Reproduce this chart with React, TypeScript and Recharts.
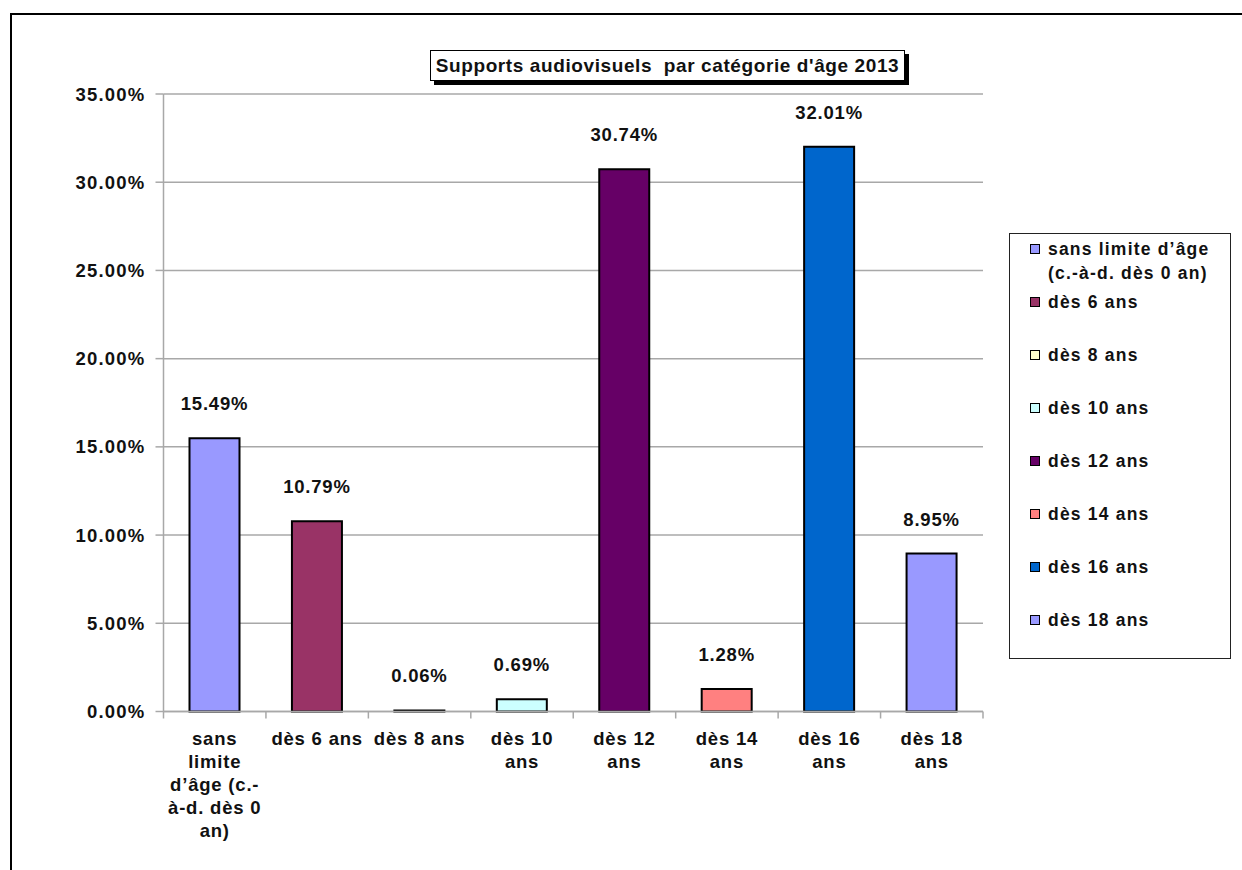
import React from 'react';
import { BarChart, Bar, XAxis, YAxis, CartesianGrid, LabelList, Cell, Legend } from 'recharts';

const CATEGORIES = [
  'sans limite d’âge (c.-à-d. dès 0 an)',
  'dès 6 ans',
  'dès 8 ans',
  'dès 10 ans',
  'dès 12 ans',
  'dès 14 ans',
  'dès 16 ans',
  'dès 18 ans',
];
const TICK_LINES = [
  ['sans', 'limite', 'd’âge (c.-', 'à-d. dès 0', 'an)'],
  ['dès 6 ans'],
  ['dès 8 ans'],
  ['dès 10', 'ans'],
  ['dès 12', 'ans'],
  ['dès 14', 'ans'],
  ['dès 16', 'ans'],
  ['dès 18', 'ans'],
];
const LEGEND_LINES = [
  ['sans limite d’âge', '(c.-à-d. dès 0 an)'],
  ['dès 6 ans'],
  ['dès 8 ans'],
  ['dès 10 ans'],
  ['dès 12 ans'],
  ['dès 14 ans'],
  ['dès 16 ans'],
  ['dès 18 ans'],
];
const VALUES = [15.49, 10.79, 0.06, 0.69, 30.74, 1.28, 32.01, 8.95];
const COLORS = ['#9999FF', '#993366', '#FFFFCC', '#CCFFFF', '#660066', '#FF8080', '#0066CC', '#9999FF'];
const Y_TICKS = [0, 5, 10, 15, 20, 25, 30, 35];
const TITLE = "Supports audiovisuels  par catégorie d'âge 2013";

const data = CATEGORIES.map((name, i) => ({ name, value: VALUES[i], idx: i }));

const FONT = '"Liberation Sans", Arial, Helvetica, sans-serif';
const CHART_W = 1242;
const CHART_H = 870;
const MARGIN = { top: 94, right: 259, bottom: 28.5, left: 63.5 };
const Y_W = 100;
const X_H = 130;
const PLOT_W = CHART_W - MARGIN.left - MARGIN.right - Y_W;
const BAND = PLOT_W / CATEGORIES.length;
const GRID = '#A8A8A8';

const XTick = (props: any) => {
  const { x, y, payload, index } = props;
  const i = typeof index === 'number' ? index : payload.index;
  const lines = TICK_LINES[i] || [String(payload.value)];
  return (
    <g>
      <line x1={x - BAND / 2} x2={x - BAND / 2} y1={y} y2={y + 7} stroke={GRID} strokeWidth={1.5} />
      {i === CATEGORIES.length - 1 && (
        <line x1={x + BAND / 2} x2={x + BAND / 2} y1={y} y2={y + 7} stroke={GRID} strokeWidth={1.5} />
      )}
      <text
        textAnchor="middle"
        fontFamily={FONT}
        fontWeight="bold"
        fontSize={18.5}
        letterSpacing={0.8}
        fill="#111"
      >
        {lines.map((l: string, k: number) => (
          <tspan key={k} x={x} y={y + 33 + k * 23}>
            {l}
          </tspan>
        ))}
      </text>
    </g>
  );
};

const LegendContent = () => (
  <div
    style={{
      width: 222,
      height: 426,
      boxSizing: 'border-box',
      border: '1px solid #222',
      background: '#fff',
      paddingTop: 3,
      paddingLeft: 20,
      fontFamily: FONT,
      fontWeight: 'bold',
      fontSize: 17.5,
      letterSpacing: 1.2,
      color: '#111',
      textAlign: 'left',
    }}
  >
    {LEGEND_LINES.map((lines, i) => (
      <div key={i} style={{ display: 'flex', alignItems: 'flex-start', marginBottom: i === 0 ? 5 : 29 }}>
        <div
          style={{
            width: 10,
            height: 10,
            boxSizing: 'border-box',
            border: '1.5px solid #000',
            background: COLORS[i],
            marginTop: 7,
            marginRight: 8,
            flex: 'none',
          }}
        />
        <div style={{ lineHeight: '24px', whiteSpace: 'nowrap' }}>
          {lines.map((l, k) => (
            <div key={k}>{l}</div>
          ))}
        </div>
      </div>
    ))}
  </div>
);

export default function App() {
  return (
    <div style={{ position: 'absolute', left: 0, top: 0, width: CHART_W, height: CHART_H, background: '#fff', overflow: 'hidden' }}>
      <div
        style={{
          position: 'absolute',
          left: 10,
          top: 13,
          width: CHART_W,
          height: CHART_H,
          borderLeft: '2px solid #000',
          borderTop: '2px solid #000',
        }}
      />
      <div style={{ position: 'absolute', left: 0, top: 0 }}>
        <BarChart width={CHART_W} height={CHART_H} data={data} margin={MARGIN}>
          <CartesianGrid vertical={false} stroke={GRID} strokeWidth={1.5} />
          <XAxis
            dataKey="name"
            height={X_H}
            interval={0}
            tickSize={0}
            tickMargin={0}
            tickLine={false}
            axisLine={{ stroke: GRID, strokeWidth: 1.5 }}
            tick={<XTick />}
          />
          <YAxis
            width={Y_W}
            domain={[0, 35]}
            ticks={Y_TICKS}
            interval={0}
            tickSize={8}
            tickMargin={10}
            axisLine={{ stroke: GRID, strokeWidth: 1.5 }}
            tickLine={{ stroke: GRID, strokeWidth: 1.5 }}
            tickFormatter={(v: number) => `${v.toFixed(2)}%`}
            tick={{ fontFamily: FONT, fontWeight: 'bold', fontSize: 18.5, fill: '#111', letterSpacing: 1.2 }}
          />
          <Legend
            layout="vertical"
            align="center"
            verticalAlign="middle"
            content={<LegendContent />}
            wrapperStyle={{ position: 'absolute', left: 1009, top: 233, width: 222, height: 426 }}
          />
          <Bar dataKey="value" barSize={50} stroke="#000" strokeWidth={2} isAnimationActive={false}>
            {data.map((d, i) => (
              <Cell key={i} fill={COLORS[i]} />
            ))}
            <LabelList
              dataKey="value"
              position="top"
              offset={28}
              formatter={(v: any) => `${Number(v).toFixed(2)}%`}
              style={{ fontFamily: FONT, fontWeight: 'bold', fontSize: 18.5, fill: '#111', letterSpacing: 0.8 }}
            />
          </Bar>
        </BarChart>
      </div>
      <div
        style={{
          position: 'absolute',
          left: 430,
          top: 50,
          width: 475,
          height: 31,
          boxSizing: 'border-box',
          border: '1px solid #000',
          background: '#fff',
          boxShadow: '4px 4px 0 #000',
          fontFamily: FONT,
          fontWeight: 'bold',
          fontSize: 19,
          letterSpacing: 0.6,
          color: '#111',
          whiteSpace: 'pre',
          textAlign: 'center',
          lineHeight: '29px',
        }}
      >
        {TITLE}
      </div>
    </div>
  );
}
